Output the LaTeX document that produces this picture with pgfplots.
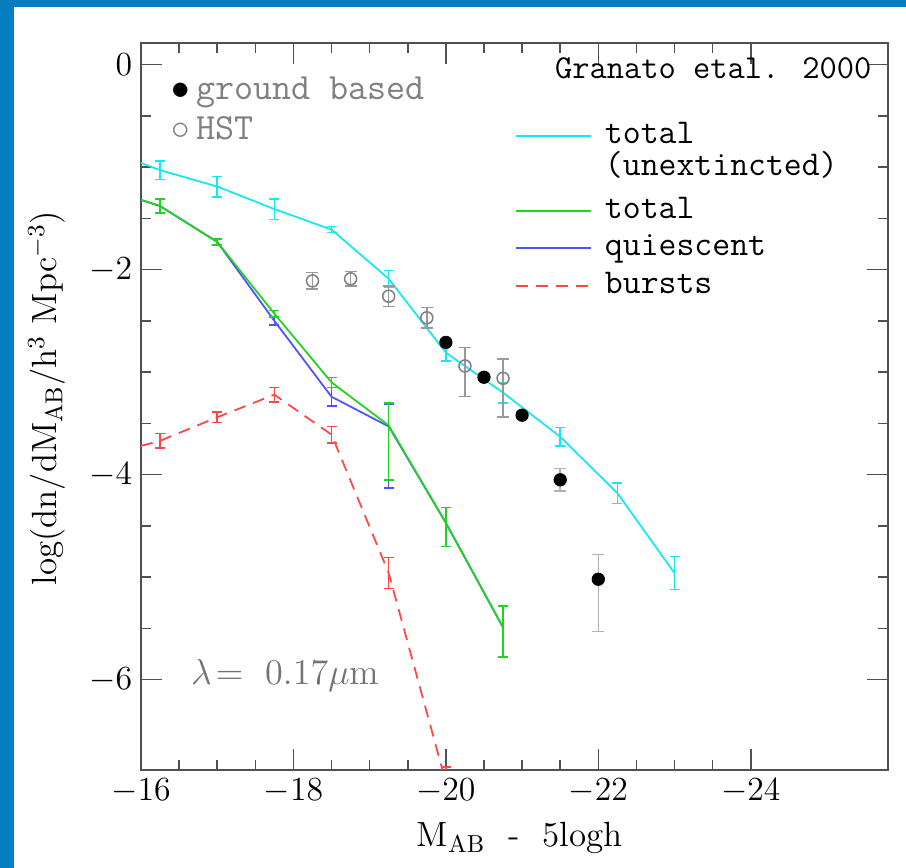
\RequirePackage{fix-cm}
\documentclass[border=0pt]{standalone}
\usepackage{fontspec}
\usepackage{pgfplots}
\pgfplotsset{compat=1.18}
\usepackage{pgfplotstable}
\definecolor{bgblue}{RGB}{5,125,194}
\definecolor{cyanc}{RGB}{20,232,240}
\definecolor{greenc}{RGB}{30,212,30}
\definecolor{bluec}{RGB}{80,80,255}
\definecolor{redc}{RGB}{255,70,70}
\definecolor{axisgray}{RGB}{80,80,80}

% model curves (lines)
\pgfplotstableread{
x y
-16 -0.96
-16.25 -1.03
-17 -1.19
-17.75 -1.41
-18.5 -1.61
-19.25 -2.09
-20 -2.81
-20.75 -3.20
-21.5 -3.63
-22.25 -4.18
-23 -4.96
}\cyanline
\pgfplotstableread{
x y ep em
-16.25 -1.03 0.09 0.09
-17 -1.19 0.10 0.10
-17.75 -1.41 0.10 0.10
-18.5 -1.61 0.03 0.03
-19.25 -2.09 0.08 0.08
-20 -2.81 0.08 0.08
-20.75 -3.20 0.10 0.10
-21.5 -3.63 0.09 0.09
-22.25 -4.18 0.10 0.10
-23 -4.96 0.16 0.16
}\cyanerr
\pgfplotstableread{
x y
-16 -1.32
-16.25 -1.38
-17 -1.73
-17.75 -2.43
-18.5 -3.10
-19.25 -3.52
-20 -4.47
-20.75 -5.49
}\greenline
\pgfplotstableread{
x y ep em
-16.25 -1.38 0.07 0.07
-17 -1.73 0.03 0.03
-17.75 -2.43 0.03 0.03
-18.5 -3.10 0.05 0.05
-19.25 -3.52 0.22 0.53
-20 -4.47 0.15 0.23
-20.75 -5.49 0.21 0.29
}\greenerr
\pgfplotstableread{
x y
-16 -1.32
-16.25 -1.38
-17 -1.73
-17.75 -2.50
-18.5 -3.24
-19.25 -3.53
-20 -4.47
-20.75 -5.49
}\blueline
\pgfplotstableread{
x y ep em
-16.25 -1.38 0.07 0.07
-17 -1.73 0.03 0.03
-17.75 -2.50 0.04 0.04
-18.5 -3.24 0.09 0.09
-19.25 -3.53 0.22 0.60
-20 -4.47 0.15 0.23
-20.75 -5.49 0.21 0.29
}\blueerr
\pgfplotstableread{
x y
-16 -3.72
-16.25 -3.67
-17 -3.44
-17.75 -3.22
-18.5 -3.61
-19.25 -4.96
-20 -7.00
}\redline
\pgfplotstableread{
x y ep em
-16.25 -3.67 0.07 0.07
-17 -3.44 0.05 0.05
-17.75 -3.22 0.07 0.07
-18.5 -3.61 0.08 0.08
-19.25 -4.96 0.15 0.15
-20 -7.00 0.15 0.15
}\rederr
% observations
\pgfplotstableread{
x y ep em
-20 -2.71 0.03 0.03
-20.5 -3.05 0.03 0.03
-21 -3.42 0.03 0.03
-21.5 -4.05 0.11 0.11
-22 -5.02 0.24 0.51
}\ground
\pgfplotstableread{
x y ep em
-18.25 -2.11 0.08 0.08
-18.75 -2.09 0.07 0.07
-19.25 -2.26 0.10 0.10
-19.75 -2.47 0.10 0.10
-20.25 -2.94 0.18 0.30
-20.75 -3.06 0.19 0.38
}\hst

\pgfplotsset{
  errbars/.style={draw=none, mark=none, forget plot,
    error bars/.cd, y dir=both, y explicit,
    error bar style={draw=#1, solid, line width=0.6pt},
    error mark options={rotate=90, mark size=2pt, draw=#1, solid, line width=0.6pt}},
}

\begin{document}
\begin{tikzpicture}
\fill[bgblue] (0pt,0pt) rectangle (362.4pt,347.2pt);
\fill[white] (5.6pt,0pt) rectangle (362.4pt,344.4pt);
\begin{axis}[
  at={(56.4pt,39.2pt)}, anchor=south west,
  scale only axis, width=298.8pt, height=290.8pt,
  x dir=reverse, xmin=-25.8, xmax=-16, ymin=-6.88, ymax=0.21,
  xtick={-16,-18,-20,-22,-24}, ytick={-6,-4,-2,0},
  minor x tick num=3, minor y tick num=3,
  tick align=inside, major tick length=8.5pt, minor tick length=4pt,
  axis line style={axisgray, line width=0.7pt},
  every tick/.style={axisgray, line width=0.6pt},
  tick label style={font=\fontsize{13.5}{16}\selectfont},
  xlabel={M$_{\mathrm{AB}}$\ \ -\ \ 5logh},
  ylabel={log(dn/dM$_{\mathrm{AB}}$/h$^{3}$ Mpc$^{-3}$)},
  label style={font=\fontsize{14}{16}\selectfont},
  xlabel style={at={(axis description cs:0.507,-0.0935)}, anchor=center},
  ylabel style={at={(axis description cs:-0.1258,0.5117)}, anchor=center},
  legend style={at={(rel axis cs:0.5007,0.894)}, anchor=north west, draw=none, fill=none,
    font=\ttfamily\fontsize{13.9}{15}\selectfont, row sep=3pt,
    nodes={inner sep=0pt, text height=9pt, text depth=3pt},
    /tikz/every odd column/.append style={column sep=5pt},
    cells={anchor=west}, inner sep=0pt},
  legend image code/.code={\draw[#1, line width=0.8pt] (0pt,0pt) -- (30pt,0pt);},
  every axis plot/.append style={line width=0.7pt},
]
% model lines
\addplot[cyanc, mark=none, forget plot] table[x=x,y=y] {\cyanline};
\addplot[errbars=cyanc] table[x=x,y=y,y error plus=ep,y error minus=em] {\cyanerr};
\addplot[bluec, mark=none, forget plot] table[x=x,y=y] {\blueline};
\addplot[errbars=bluec] table[x=x,y=y,y error plus=ep,y error minus=em] {\blueerr};
\addplot[greenc, mark=none, forget plot] table[x=x,y=y] {\greenline};
\addplot[errbars=greenc] table[x=x,y=y,y error plus=ep,y error minus=em] {\greenerr};
\addplot[redc, dash pattern=on 4.8pt off 3.2pt, mark=none, forget plot] table[x=x,y=y] {\redline};
\addplot[errbars=redc] table[x=x,y=y,y error plus=ep,y error minus=em] {\rederr};
% data
\addplot[black, only marks, mark=*, mark size=2.3pt, forget plot,
  error bars/.cd, y dir=both, y explicit,
  error bar style={gray!60, line width=0.6pt},
  error mark options={rotate=90, mark size=2.4pt, gray!60, line width=0.6pt}]
  table[x=x,y=y,y error plus=ep,y error minus=em] {\ground};
\addplot[gray, only marks, mark=o, mark size=2.4pt, mark options={line width=0.6pt}, forget plot,
  error bars/.cd, y dir=both, y explicit,
  error bar style={gray!80, line width=0.6pt},
  error mark options={rotate=90, mark size=2.4pt, gray!80, line width=0.6pt}]
  table[x=x,y=y,y error plus=ep,y error minus=em] {\hst};
% legend
\addlegendimage{cyanc}
\addlegendentry{total}
\addlegendimage{empty legend}
\addlegendentry{\raisebox{2pt}{(unextincted)}}
\addlegendimage{greenc}
\addlegendentry{total}
\addlegendimage{bluec}
\addlegendentry{quiescent}
\addlegendimage{redc, dash pattern=on 4.8pt off 3.2pt}
\addlegendentry{bursts}
% annotations
\node[anchor=east, font=\ttfamily\fontsize{13.4}{15}\selectfont, inner sep=0pt]
  at (rel axis cs:0.9786,0.9656) {Granato etal. 2000};
\node[anchor=west, font=\ttfamily\fontsize{14.8}{16}\selectfont, inner sep=0pt, text=gray]
  at (rel axis cs:0.040,0.9326) {{\color{black}$\bullet$}\,ground based};
\node[anchor=west, font=\ttfamily\fontsize{14.8}{16}\selectfont, inner sep=0pt, text=gray]
  at (rel axis cs:0.040,0.883) {$\circ$\,HST};
\node[anchor=center, font=\fontsize{14.5}{16}\selectfont, inner sep=0pt, text=gray!90!black]
  at (rel axis cs:0.193,0.1307) {$\lambda\!=\ 0.17\mu$m};
\end{axis}
\pgfresetboundingbox
\path[use as bounding box] (0pt,0pt) rectangle (362.4pt,347.2pt);
\end{tikzpicture}
\end{document}
